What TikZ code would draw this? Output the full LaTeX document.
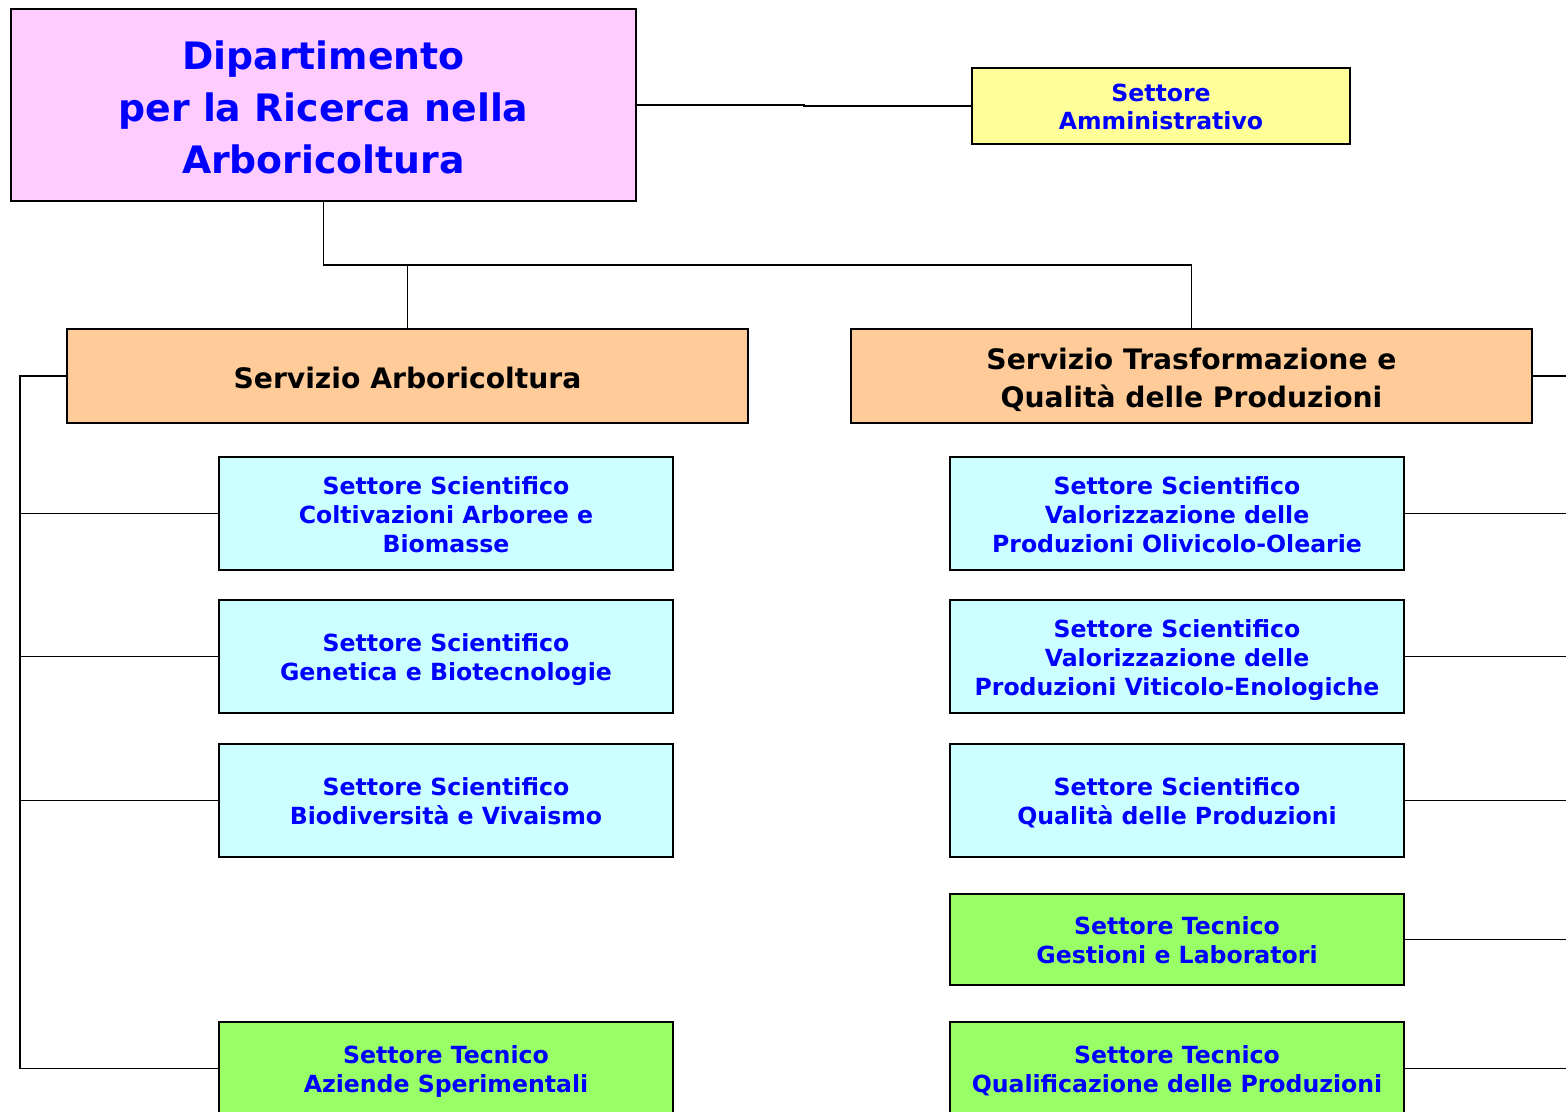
\documentclass[tikz,border=0pt]{standalone}
\usepackage{fontspec}
\setmainfont{DejaVu Sans}
\definecolor{pinkbox}{HTML}{FFCCFF}
\definecolor{yellowbox}{HTML}{FFFF99}
\definecolor{orangebox}{HTML}{FFCC99}
\definecolor{cyanbox}{HTML}{CCFFFF}
\definecolor{greenbox}{HTML}{99FF66}
\definecolor{txtblue}{HTML}{0000FF}
% #1 = downward shift of the text block
\newcommand{\txtlines}[2][4pt]{\raisebox{0pt}[\dimexpr\height+2\dimexpr#1\relax\relax][\depth]{\begin{tabular}{@{}c@{}}#2\end{tabular}}}
\tikzset{
  box/.style={draw=black, line width=1.8pt, rectangle, anchor=north west, inner sep=0pt, outer sep=0pt},
  dipbox/.style={box, fill=pinkbox, text=txtblue, font=\bfseries\fontsize{37.8}{52}\selectfont},
  ammbox/.style={box, fill=yellowbox, text=txtblue, font=\bfseries\fontsize{23.6}{28}\selectfont},
  servbox/.style={box, fill=orangebox, text=black, font=\bfseries\fontsize{28.2}{38}\selectfont},
  scibox/.style={box, fill=cyanbox, text=txtblue, font=\bfseries\fontsize{23.6}{29}\selectfont},
  tecbox/.style={box, fill=greenbox, text=txtblue, font=\bfseries\fontsize{23.6}{29}\selectfont},
  conn/.style={draw=black, line width=1.8pt}
}
\begin{document}
\begin{tikzpicture}[x=1pt,y=-1pt]
\useasboundingbox (0,0) rectangle (1566,1111);
\clip (0,0) rectangle (1566,1111);
\fill[white] (0,0) rectangle (1566,1111);
% nodes
\node[dipbox, minimum width=625pt, minimum height=192pt] (dip) at (11,9) {\txtlines[6pt]{Dipartimento\\per la Ricerca nella\\Arboricoltura}};
\node[ammbox, minimum width=378pt, minimum height=76pt] (amm) at (972,68) {\txtlines[4pt]{Settore\\Amministrativo}};
\node[servbox, minimum width=681pt, minimum height=94pt] (sarb) at (67,329) {\txtlines[5pt]{Servizio Arboricoltura}};
\node[servbox, minimum width=681pt, minimum height=94pt] (strasf) at (851,329) {\txtlines[5pt]{Servizio Trasformazione e\\Qualità delle Produzioni}};
% left column
\node[scibox, minimum width=454pt, minimum height=113pt] (l1) at (219,457) {\txtlines{Settore Scientifico\\Coltivazioni Arboree e\\Biomasse}};
\node[scibox, minimum width=454pt, minimum height=113pt] (l2) at (219,600) {\txtlines{Settore Scientifico\\Genetica e Biotecnologie}};
\node[scibox, minimum width=454pt, minimum height=113pt] (l3) at (219,744) {\txtlines{Settore Scientifico\\Biodiversità e Vivaismo}};
\node[tecbox, minimum width=454pt, minimum height=93pt] (l4) at (219,1022) {\txtlines[3.5pt]{Settore Tecnico\\Aziende Sperimentali}};
% right column
\node[scibox, minimum width=454pt, minimum height=113pt] (r1) at (950,457) {\txtlines{Settore Scientifico\\Valorizzazione delle\\Produzioni Olivicolo-Olearie}};
\node[scibox, minimum width=454pt, minimum height=113pt] (r2) at (950,600) {\txtlines{Settore Scientifico\\Valorizzazione delle\\Produzioni Viticolo-Enologiche}};
\node[scibox, minimum width=454pt, minimum height=113pt] (r3) at (950,744) {\txtlines{Settore Scientifico\\Qualità delle Produzioni}};
\node[tecbox, minimum width=454pt, minimum height=91pt] (r4) at (950,894) {\txtlines{Settore Tecnico\\Gestioni e Laboratori}};
\node[tecbox, minimum width=454pt, minimum height=93pt] (r5) at (950,1022) {\txtlines[3.5pt]{Settore Tecnico\\Qualificazione delle Produzioni}};
% coordinates
\coordinate (bus) at (324,265);
\coordinate (lb) at (20,377);
\coordinate (rx) at (1566,0);
% connectors
\draw[conn] (dip.east) -- ++(168,0) |- (amm.west);
\draw[conn] (dip.south) |- (bus) -- (bus -| strasf.north) -- (strasf.north);
\draw[conn] (bus -| sarb.north) -- (sarb.north);
\draw[conn] (sarb.west) -- (sarb.west -| lb) |- (l4.west);
\draw[conn] (lb |- l1.west) -- (l1.west);
\draw[conn] (lb |- l2.west) -- (l2.west);
\draw[conn] (lb |- l3.west) -- (l3.west);
\draw[conn] (strasf.east) -- (strasf.east -| rx);
\draw[conn] (r1.east) -- (r1.east -| rx);
\draw[conn] (r2.east) -- (r2.east -| rx);
\draw[conn] (r3.east) -- (r3.east -| rx);
\draw[conn] (r4.east) -- (r4.east -| rx);
\draw[conn] (r5.east) -- (r5.east -| rx);
\end{tikzpicture}
\end{document}
